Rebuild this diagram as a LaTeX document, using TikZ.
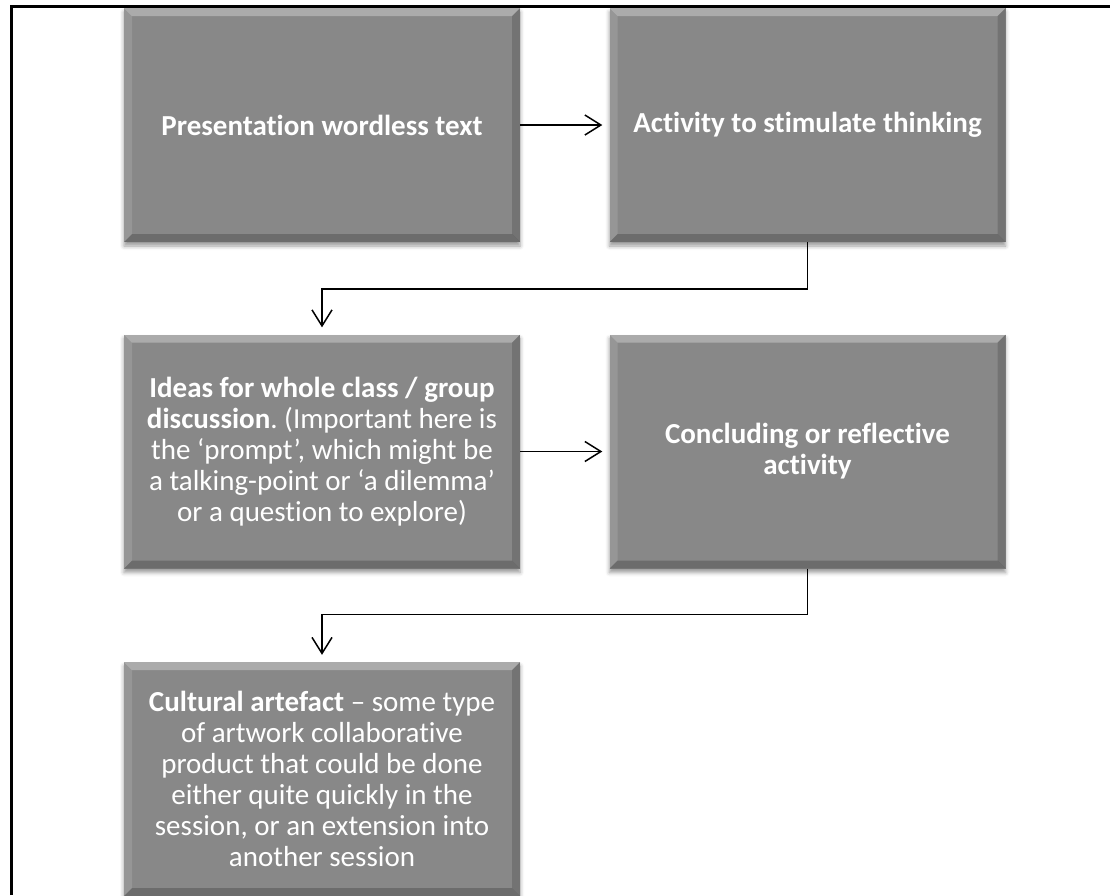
\documentclass[tikz,border=0pt]{standalone}
\usepackage{fontspec}
\setmainfont{Carlito}[Ligatures=NoCommon]
\usetikzlibrary{arrows.meta,shadows.blur}
\frenchspacing

\definecolor{boxgray}{RGB}{136,136,136}

\tikzset{
    box/.style={fill=boxgray, minimum width=396pt, minimum height=234pt, inner sep=0pt,
        align=center, text=white, font=\fontsize{29}{31}\selectfont,
        blur shadow={shadow xshift=0pt, shadow yshift=-4pt, shadow blur radius=4pt, shadow opacity=40},
        path picture={
            \def\bv{8pt}
            \coordinate (nw) at (path picture bounding box.north west);
            \coordinate (ne) at (path picture bounding box.north east);
            \coordinate (sw) at (path picture bounding box.south west);
            \coordinate (se) at (path picture bounding box.south east);
            % top and left edges lighter
            \fill[white, opacity=0.3] (nw) -- (ne) -- ([xshift=-\bv, yshift=-\bv]ne) -- ([xshift=\bv, yshift=-\bv]nw) -- cycle;
            \fill[white, opacity=0.12] (nw) -- ([xshift=\bv, yshift=-\bv]nw) -- ([xshift=\bv, yshift=\bv]sw) -- (sw) -- cycle;
            % right and bottom edges darker
            \fill[black, opacity=0.15] (ne) -- ([xshift=-\bv, yshift=-\bv]ne) -- ([xshift=-\bv, yshift=\bv]se) -- (se) -- cycle;
            \fill[black, opacity=0.2] (sw) -- ([xshift=\bv, yshift=\bv]sw) -- ([xshift=-\bv, yshift=\bv]se) -- (se) -- cycle;
        }},
    link/.style={line width=1.5pt, -{Straight Barb[length=16pt, width=20pt, line width=1.5pt]}, shorten >=7pt}
}

\begin{document}
\begin{tikzpicture}[x=1pt, y=-1pt]
    \useasboundingbox (0,0) rectangle (1110,895);

    % frame
    \draw[line width=3pt] (11,895) -- (11,6) -- (1110,6);

    \node[box] (present) at (322,125) {\textbf{Presentation wordless text}};
    \node[box] (activity) at (807.5,125) {\textbf{Activity to stimulate thinking}};
    \node[box] (ideas) at (322,451.5) {\textbf{Ideas for whole class / group}\\
        \textbf{discussion}. (Important here is\\
        the `prompt', which might be\\
        a talking-point or `a dilemma'\\
        or a question to explore)};
    \node[box] (conclude) at (807.5,451.5) {\textbf{Concluding or reflective}\\ \textbf{activity}};
    \node[box] (artefact) at (322,779) {\textbf{Cultural artefact} -- some type\\
        of artwork collaborative\\
        product that could be done\\
        either quite quickly in the\\
        session, or an extension into\\
        another session};

    \draw[link] (present) -- (activity);
    \draw[link] (ideas) -- (conclude);

    \draw[link] (activity.south) -- ++(0,47) -| (ideas.north);
    \draw[link] (conclude.south) -- ++(0,46) -| (artefact.north);

    % \draw[help lines] (0,0) grid[step=50] (1110,895);
\end{tikzpicture}
\end{document}
